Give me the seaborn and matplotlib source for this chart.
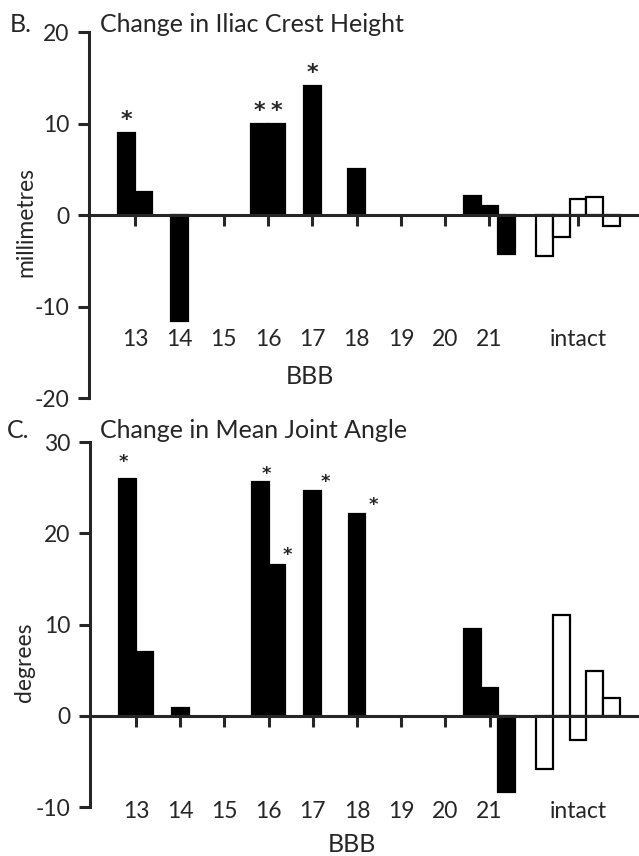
import numpy as np
import pandas as pd
import matplotlib
matplotlib.use('Agg')
import matplotlib.pyplot as plt
import seaborn as sns

# BBB score groups (tick labels) and where each group sits on the x axis
group_labels = ['13', '14', '15', '16', '17', '18', '19', '20', '21', 'intact']
group_pos = [13, 14, 15, 16, 17, 18, 19, 20, 21, 23]

# one entry per bar (animal), in drawing order
bar_group = ['13', '13', '14', '16', '16', '17', '18', '21', '21', '21',
             'intact', 'intact', 'intact', 'intact', 'intact']
bar_kind = ['lesion'] * 10 + ['intact'] * 5

# B. change in iliac crest height (mm)
iliac_mm = [9.0, 2.5, -11.6, 10.0, 9.9, 14.1, 5.0, 2.1, 1.0, -4.3,
            -4.5, -2.4, 1.7, 2.0, -1.2]
iliac_sig = [1, 0, 0, 1, 1, 1, 0, 0, 0, 0, 0, 0, 0, 0, 0]

# C. change in mean joint angle (degrees)
angle_deg = [26.0, 7.0, 0.8, 25.6, 16.5, 24.6, 22.1, 9.5, 3.0, -8.4,
             -5.8, 11.1, -2.6, 4.9, 1.9]
angle_sig = [1, 0, 0, 1, 1, 1, 1, 0, 0, 0, 0, 0, 0, 0, 0]

sns.set_style('white')
plt.rcParams['font.family'] = ['Lato', 'DejaVu Sans']

# x position of every bar: bars of a group sit side by side, centred on the tick
bar_w = 0.38
centre = dict(zip(group_labels, group_pos))
xpos = []
seen = {}
for g in bar_group:
    n = bar_group.count(g)
    k = seen.get(g, 0)
    seen[g] = k + 1
    xpos.append(round(centre[g] + (k - (n - 1) / 2) * bar_w, 3))

df = pd.DataFrame({'x': xpos, 'kind': bar_kind, 'mm': iliac_mm, 'deg': angle_deg})

fig = plt.figure(figsize=(6.39, 8.56), dpi=100)
axB = fig.add_axes([0.1393, 0.535, 0.861, 0.4276])
axC = fig.add_axes([0.1408, 0.0572, 0.8592, 0.4264])


def panel(ax, col, ylim, yticks, sig, star_dx, star_dy, star_size, label_pad):
    sns.barplot(data=df, x='x', y=col, hue='kind', native_scale=True, dodge=False,
                palette={'lesion': 'black', 'intact': 'white'}, width=1.0,
                edgecolor='black', linewidth=1.6, legend=False, ax=ax, errorbar=None)
    ax.set_xlim(11.96, 24.38)
    ax.set_ylim(*ylim)
    ax.set_yticks(yticks)
    ax.set_yticklabels([str(t) for t in yticks])
    ax.set_xticks(group_pos)
    ax.set_xticklabels(group_labels)
    ax.set_xlabel('')
    ax.set_ylabel('')
    for s in ['top', 'right']:
        ax.spines[s].set_visible(False)
    ax.spines['bottom'].set_position(('data', 0))
    ax.spines['bottom'].set_linewidth(2.2)
    ax.spines['left'].set_linewidth(2.2)
    ax.tick_params(axis='x', direction='out', length=8, width=2.2, pad=label_pad,
                   labelsize=16.5, bottom=True)
    ax.tick_params(axis='y', direction='out', length=8, width=2.2, pad=6,
                   labelsize=16.5, left=True)
    # significance stars
    vals = df[col].tolist()
    j = 0
    for i, s in enumerate(sig):
        if s:
            ax.annotate('*', xy=(xpos[i], vals[i]), xytext=(star_dx[j], star_dy[j]),
                        textcoords='offset pixels', ha='center', va='center',
                        fontsize=star_size, fontweight='bold', family='DejaVu Sans')
            j += 1


panel(axB, 'mm', (-20, 20), [-20, -10, 0, 10, 20], iliac_sig,
      [0, 0, 0, 0], [13, 13, 13, 13], 16, 74)
panel(axC, 'deg', (-10, 30), [-10, 0, 10, 20, 30], angle_sig,
      [-4, 6, 10, 13, 16], [17, 8, 10, 9, 9], 13, 53)

fig.text(0.016, 0.9626, 'B.', fontsize=18, va='baseline')
fig.text(0.157, 0.9626, 'Change in Iliac Crest Height', fontsize=18, va='baseline')
fig.text(0.011, 0.488, 'C.', fontsize=18, va='baseline')
fig.text(0.157, 0.488, 'Change in Mean Joint Angle', fontsize=18, va='baseline')
fig.text(0.485, 0.5596, 'BBB', fontsize=18, ha='center', va='center')
fig.text(0.551, 0.0135, 'BBB', fontsize=18, ha='center', va='center')
fig.text(0.0407, 0.7407, 'millimetres', fontsize=16.5, rotation=90, ha='center', va='center')
fig.text(0.039, 0.2266, 'degrees', fontsize=16.5, rotation=90, ha='center', va='center')

fig.savefig('out.png', dpi=100)
